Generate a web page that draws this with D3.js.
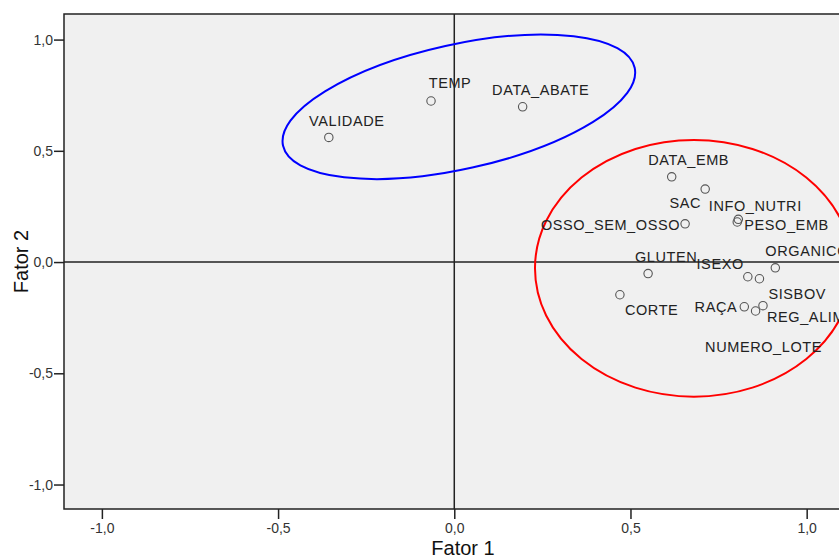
<!DOCTYPE html>
<html lang="pt">
<head>
    <meta charset="UTF-8">
    <title>Fator 1 x Fator 2</title>
    <script src="https://d3js.org/d3.v7.min.js"></script>
    <style>
        body {
            margin: 0;
            background: #ffffff;
            overflow: hidden;
        }
        svg {
            display: block;
            font-family: "Liberation Sans", Arial, sans-serif;
        }
        .tick-label {
            font-size: 14px;
            fill: #333;
        }
        .axis-title {
            font-size: 20px;
            fill: #111;
        }
        .point-label {
            font-size: 14.5px;
            letter-spacing: 0.6px;
            fill: #222;
        }
    </style>
</head>
<body>
    <script>
        // loadings (Fator 1, Fator 2)
        const variables = ["VALIDADE", "TEMP", "DATA_ABATE", "DATA_EMB", "SAC", "OSSO_SEM_OSSO",
            "INFO_NUTRI", "PESO_EMB", "ORGANICO", "GLUTEN", "ISEXO", "SISBOV",
            "CORTE", "RAÇA", "NUMERO_LOTE", "REG_ALIM"];
        const fator1 = [-0.356, -0.066, 0.194, 0.617, 0.712, 0.655,
            0.806, 0.803, 0.911, 0.550, 0.833, 0.866,
            0.470, 0.823, 0.855, 0.876];
        const fator2 = [0.560, 0.724, 0.698, 0.383, 0.328, 0.172,
            0.192, 0.180, -0.026, -0.052, -0.066, -0.075,
            -0.147, -0.201, -0.220, -0.196];

        const tickValues = [-1.0, -0.5, 0.0, 0.5, 1.0];

        // groups marked by hand: centre in factor units, radii in axis units, tilt in degrees
        const groupNames = ["temporais", "produto"];
        const groupCenterX = [0.013, 0.680];
        const groupCenterY = [0.698, -0.028];
        const groupRadiusX = [0.511, 0.451];
        const groupRadiusY = [0.280, 0.577];
        const groupTilt = [-12.5, 0];
        const groupColors = ["#0000ff", "#ff0000"];

        // where each label sits next to its point (px)
        const labelPlacement = {
            "VALIDADE": ["middle", 18, -17],
            "TEMP": ["middle", 19, -18],
            "DATA_ABATE": ["middle", 18, -17],
            "DATA_EMB": ["middle", 17, -17],
            "SAC": ["end", -4, 14],
            "OSSO_SEM_OSSO": ["end", -5, 1],
            "INFO_NUTRI": ["middle", 17, -13],
            "PESO_EMB": ["start", 7, 3],
            "ORGANICO": ["start", -10, -17],
            "GLUTEN": ["middle", 18, -17],
            "ISEXO": ["end", -4, -13],
            "SISBOV": ["start", 9, 15],
            "CORTE": ["start", 5, 15],
            "RAÇA": ["end", -7, 0],
            "NUMERO_LOTE": ["middle", 8, 36],
            "REG_ALIM": ["start", 4, 11]
        };

        const width = 839, height = 558;
        const plot = { left: 64, top: 14, right: 862, bottom: 509 };

        const ptBR = d3.formatLocale({ decimal: ",", thousands: ".", grouping: [3], currency: ["", ""], minus: "-" });
        const fmt = ptBR.format(".1f");

        const x = d3.scaleLinear().domain([-1.1075, 1.157]).range([plot.left, plot.right]);
        const y = d3.scaleLinear().domain([-1.11, 1.115]).range([plot.bottom, plot.top]);

        const svg = d3.select("body").append("svg")
            .attr("width", width)
            .attr("height", height);

        svg.append("defs").append("clipPath").attr("id", "plot-clip")
            .append("rect")
            .attr("x", plot.left).attr("y", plot.top)
            .attr("width", plot.right - plot.left).attr("height", plot.bottom - plot.top);

        svg.append("rect")
            .attr("x", plot.left).attr("y", plot.top)
            .attr("width", plot.right - plot.left).attr("height", plot.bottom - plot.top)
            .attr("fill", "#f0f0f0")
            .attr("stroke", "#222")
            .attr("stroke-width", 1.5);

        // axes
        const xAxis = d3.axisBottom(x).tickValues(tickValues).tickFormat(fmt).tickSize(10).tickPadding(4);
        const yAxis = d3.axisLeft(y).tickValues(tickValues).tickFormat(fmt).tickSize(10).tickPadding(1);

        const gx = svg.append("g").attr("transform", `translate(0,${plot.bottom})`).call(xAxis);
        const gy = svg.append("g").attr("transform", `translate(${plot.left},0)`).call(yAxis);
        [gx, gy].forEach(g => {
            g.select(".domain").remove();
            g.selectAll(".tick line").attr("stroke", "#222").attr("stroke-width", 1.5);
            g.selectAll(".tick text").attr("class", "tick-label").attr("font-size", null).attr("font-family", null);
        });

        const inner = svg.append("g").attr("clip-path", "url(#plot-clip)");

        // reference lines at zero
        inner.append("line")
            .attr("x1", x(0)).attr("x2", x(0))
            .attr("y1", plot.top).attr("y2", plot.bottom)
            .attr("stroke", "#222").attr("stroke-width", 1.5);
        inner.append("line")
            .attr("x1", plot.left).attr("x2", plot.right)
            .attr("y1", y(0)).attr("y2", y(0))
            .attr("stroke", "#222").attr("stroke-width", 1.5);

        const unitX = x(1) - x(0);
        const unitY = y(0) - y(1);

        inner.selectAll(".group")
            .data(groupNames)
            .enter().append("ellipse")
            .attr("class", "group")
            .attr("cx", 0).attr("cy", 0)
            .attr("rx", (d, i) => groupRadiusX[i] * unitX)
            .attr("ry", (d, i) => groupRadiusY[i] * unitY)
            .attr("transform", (d, i) => `translate(${x(groupCenterX[i])},${y(groupCenterY[i])}) rotate(${groupTilt[i]})`)
            .attr("fill", "none")
            .attr("stroke", (d, i) => groupColors[i])
            .attr("stroke-width", 2);

        const points = variables.map((name, i) => ({ name, f1: fator1[i], f2: fator2[i] }));

        inner.selectAll(".pt")
            .data(points)
            .enter().append("circle")
            .attr("class", "pt")
            .attr("cx", d => x(d.f1))
            .attr("cy", d => y(d.f2))
            .attr("r", 4.2)
            .attr("fill", "none")
            .attr("stroke", "#555")
            .attr("stroke-width", 1.1);

        svg.selectAll(".point-label")
            .data(points)
            .enter().append("text")
            .attr("class", "point-label")
            .attr("x", d => x(d.f1) + labelPlacement[d.name][1])
            .attr("y", d => y(d.f2) + labelPlacement[d.name][2])
            .attr("dy", "0.35em")
            .attr("text-anchor", d => labelPlacement[d.name][0])
            .text(d => d.name);

        svg.append("text")
            .attr("class", "axis-title")
            .attr("x", (plot.left + plot.right) / 2)
            .attr("y", 555)
            .attr("text-anchor", "middle")
            .text("Fator 1");

        svg.append("text")
            .attr("class", "axis-title")
            .attr("transform", `translate(28,${(plot.top + plot.bottom) / 2}) rotate(-90)`)
            .attr("text-anchor", "middle")
            .text("Fator 2");
    </script>
</body>
</html>
